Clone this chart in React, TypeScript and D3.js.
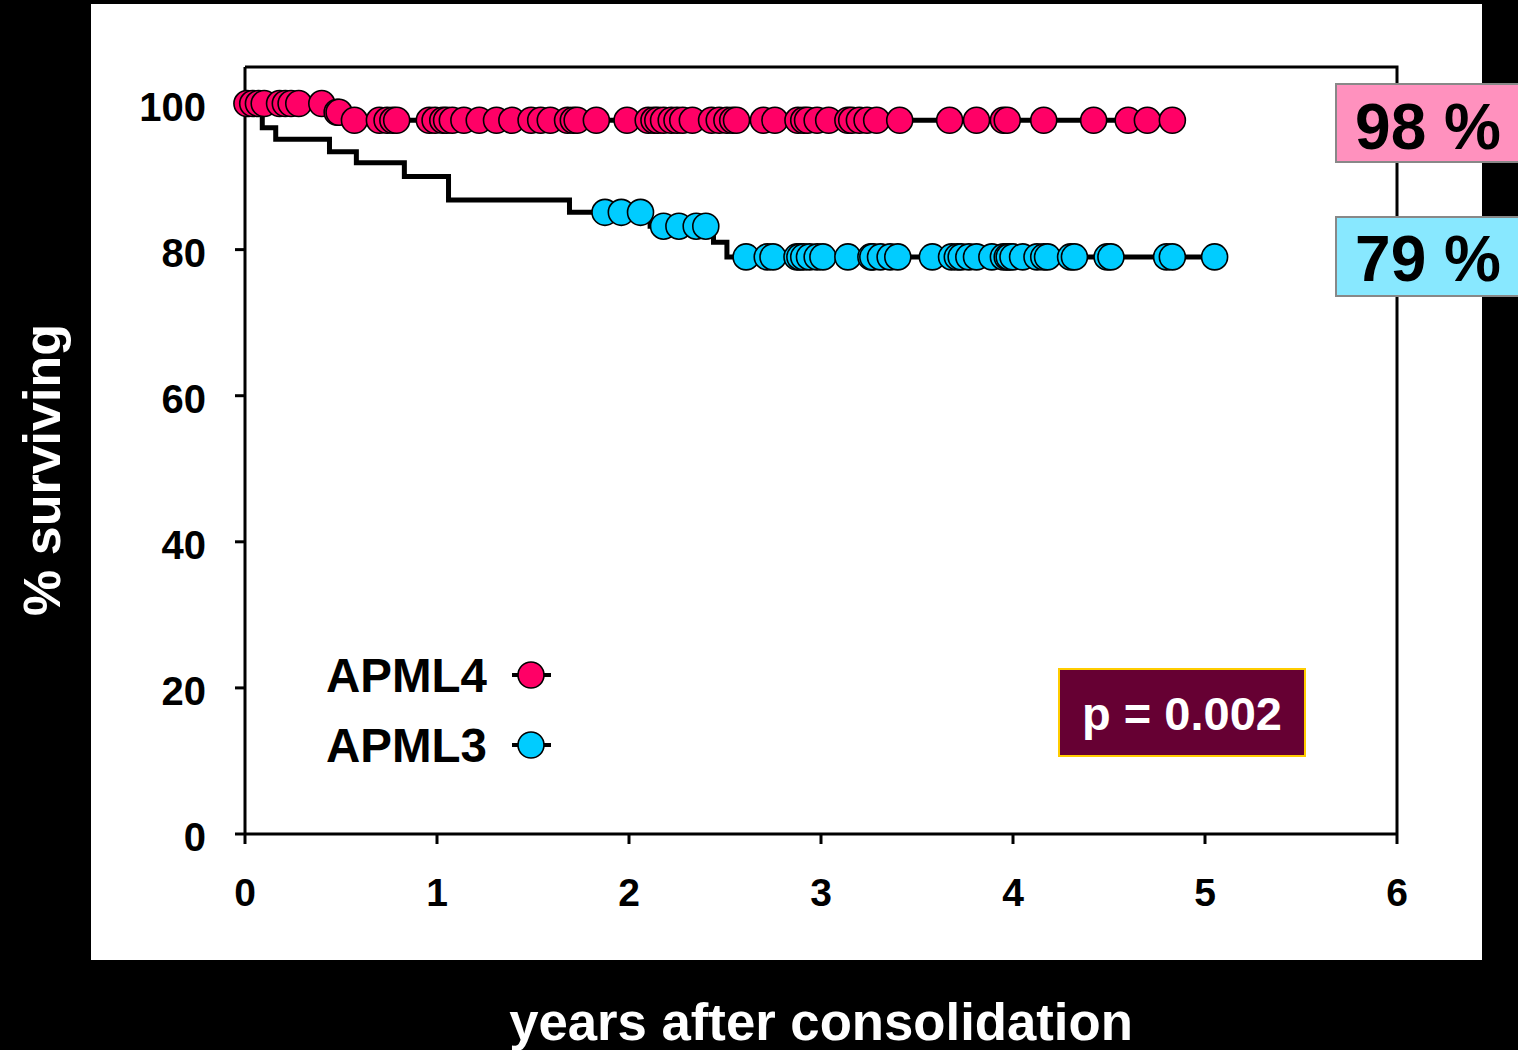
import React from 'react';
import * as d3 from 'd3';

// Kaplan-Meier steps: [years, % surviving]
const apml4Steps: [number, number][] = [[0, 100], [0.44, 98.8], [0.52, 97.7]];
const apml3Steps: [number, number][] = [
  [0, 100], [0.09, 96.7], [0.16, 95.1], [0.44, 93.4], [0.58, 91.9], [0.83, 90.0],
  [1.06, 86.8], [1.69, 85.1], [2.11, 83.2], [2.44, 81.0], [2.51, 79.0],
];

// censored observations (years)
const apml4Censored = [
  0.01, 0.04, 0.07, 0.1, 0.18, 0.21, 0.24, 0.28, 0.4, 0.48, 0.49,
  0.57, 0.7, 0.74, 0.77, 0.79, 0.96, 0.99, 1.03, 1.05, 1.08, 1.14, 1.22, 1.31, 1.39,
  1.49, 1.54, 1.59, 1.68, 1.71, 1.73, 1.83, 1.99, 2.1, 2.13, 2.15, 2.18, 2.22, 2.25,
  2.28, 2.33, 2.43, 2.47, 2.51, 2.54, 2.56, 2.7, 2.76, 2.88, 2.91, 2.93, 2.98, 3.04,
  3.14, 3.16, 3.2, 3.24, 3.29, 3.41, 3.67, 3.81, 3.95, 3.97, 4.16, 4.42, 4.6, 4.7, 4.83,
];
const apml3Censored = [
  1.875, 1.96, 2.06, 2.18, 2.26, 2.35, 2.4, 2.61, 2.72, 2.75, 2.875, 2.89, 2.91, 2.94,
  2.98, 3.01, 3.14, 3.26, 3.27, 3.31, 3.36, 3.4, 3.58, 3.68, 3.71, 3.73, 3.77, 3.81,
  3.89, 3.95, 3.97, 3.98, 4.0, 4.05, 4.125, 4.16, 4.18, 4.3, 4.32, 4.49, 4.51, 4.8,
  4.83, 5.05,
];

const xTicks = [0, 1, 2, 3, 4, 5, 6];
const yTicks = [0, 20, 40, 60, 80, 100];

const PINK = '#FF0066';
const BLUE = '#00CCFF';
const FONT = 'Liberation Sans, Arial, sans-serif';

const survivalAt = (steps: [number, number][], t: number) => {
  let s = steps[0][1];
  for (const [time, v] of steps) if (time <= t) s = v;
  return s;
};

const App = () => {
  const x = d3.scaleLinear().domain([0, 6]).range([245, 1397]);
  const y = d3.scaleLinear().domain([0, 105]).range([834, 67]);

  const line = d3.line<[number, number]>()
    .x(d => x(d[0]))
    .y(d => y(d[1]))
    .curve(d3.curveStepAfter);

  const curvePts = (steps: [number, number][], cens: number[]) => {
    const end = d3.max(cens) as number;
    return [...steps, [end, survivalAt(steps, end)] as [number, number]];
  };

  const dots = (steps: [number, number][], cens: number[], fill: string) =>
    cens.map((t, i) => (
      <circle key={i} cx={x(t)} cy={y(survivalAt(steps, t))} r={13}
        fill={fill} stroke="#000" strokeWidth={1.6} />
    ));

  return (
    <svg width={1518} height={1050} style={{ position: 'absolute', left: 0, top: 0 }}
      fontFamily={FONT} fontWeight="bold">
      <rect width={1518} height={1050} fill="#000" />
      <rect x={91} y={4} width={1391} height={956} fill="#fff" />

      {/* frame */}
      <path d={`M${x(0)},${y(105)}H${x(6)}V${y(0)}`} fill="none" stroke="#000" strokeWidth={3} />
      <line x1={x(0)} x2={x(6)} y1={y(0)} y2={y(0)} stroke="#000" strokeWidth={3} />
      <line x1={x(0)} x2={x(0)} y1={y(105)} y2={y(0)} stroke="#000" strokeWidth={3} />
      {yTicks.map(v => (
        <g key={v}>
          <line x1={x(0) - 10} x2={x(0)} y1={y(v)} y2={y(v)} stroke="#000" strokeWidth={3} />
          <text x={206} y={y(v) + 3} dy="0.36em" textAnchor="end" fontSize={40}>{v}</text>
        </g>
      ))}
      {xTicks.map(v => (
        <g key={v}>
          <line x1={x(v)} x2={x(v)} y1={y(0)} y2={y(0) + 10} stroke="#000" strokeWidth={3} />
          <text x={x(v)} y={906} textAnchor="middle" fontSize={39}>{v}</text>
        </g>
      ))}

      {/* curves */}
      <path d={line(curvePts(apml3Steps, apml3Censored)) || ''} fill="none" stroke="#000" strokeWidth={5} />
      <path d={line(curvePts(apml4Steps, apml4Censored)) || ''} fill="none" stroke="#000" strokeWidth={5} />
      {dots(apml3Steps, apml3Censored, BLUE)}
      {dots(apml4Steps, apml4Censored, PINK)}

      {/* legend */}
      {[['APML4', PINK, 675], ['APML3', BLUE, 745]].map(([label, c, yy]) => (
        <g key={label as string}>
          <text x={487} y={yy as number} dy="0.36em" textAnchor="end" fontSize={47.5}>{label}</text>
          <line x1={512} x2={551} y1={yy as number} y2={yy as number} stroke="#000" strokeWidth={4} />
          <circle cx={531} cy={yy as number} r={13} fill={c as string} stroke="#000" strokeWidth={1.6} />
        </g>
      ))}

      {/* p value */}
      <rect x={1059} y={669} width={246} height={87} fill="#660033" stroke="#FFCC00" strokeWidth={2} />
      <text x={1182} y={713} dy="0.36em" textAnchor="middle" fontSize={47}>
        <tspan fill="#fff">p = 0.002</tspan>
      </text>

      {/* end labels */}
      <rect x={1336} y={84} width={190} height={78} fill="#FF91BE" stroke="#888" strokeWidth={2} />
      <text x={1428} y={126} dy="0.36em" textAnchor="middle" fontSize={64}>98 %</text>
      <rect x={1336} y={217} width={190} height={79} fill="#88E8FF" stroke="#888" strokeWidth={2} />
      <text x={1428} y={258} dy="0.36em" textAnchor="middle" fontSize={64}>79 %</text>

      {/* axis titles */}
      <text transform="translate(60,470) rotate(-90)" textAnchor="middle" fontSize={52} fill="#fff">% surviving</text>
      <text x={821} y={1040} textAnchor="middle" fontSize={52.7} fill="#fff">years after consolidation</text>
    </svg>
  );
};

export default App;
